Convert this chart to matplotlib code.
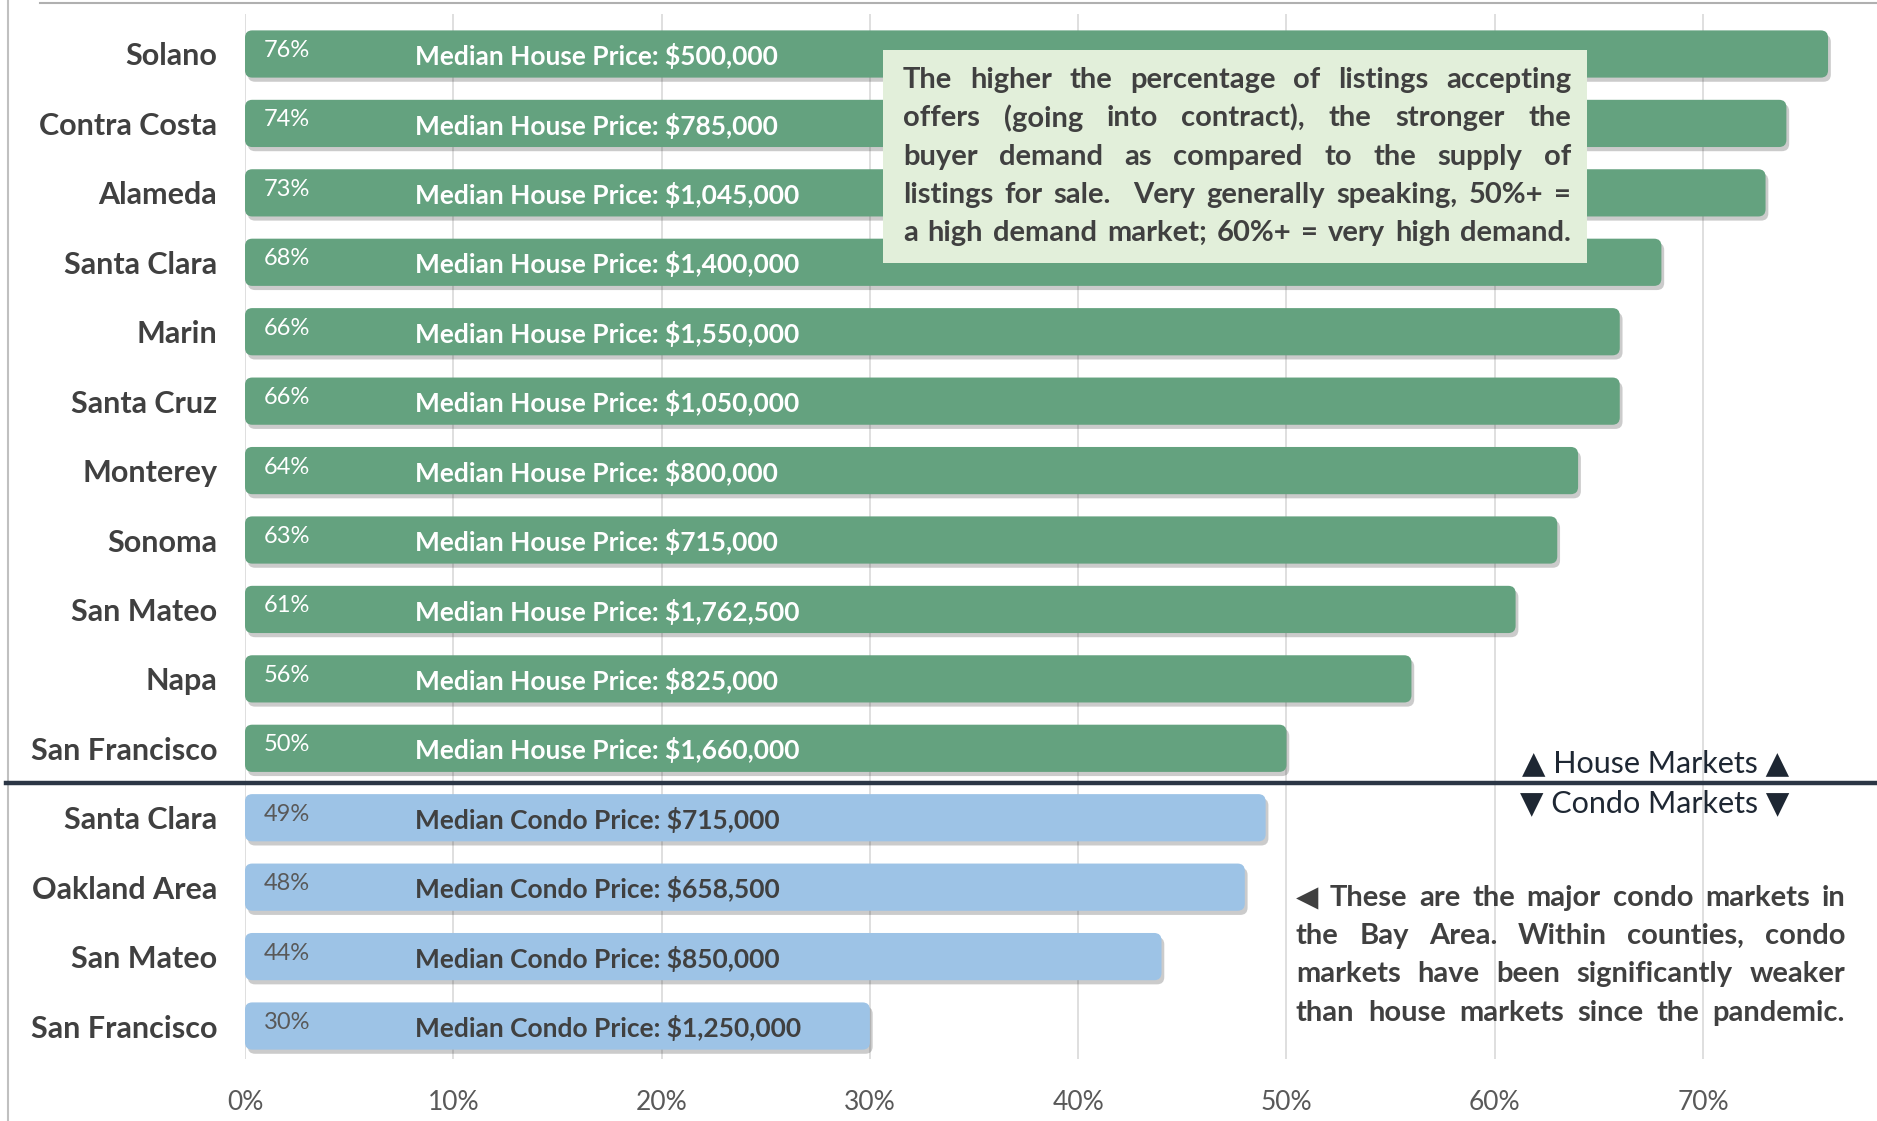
import numpy as np
import matplotlib.pyplot as plt
from matplotlib.patches import FancyBboxPatch, Rectangle
from matplotlib.lines import Line2D
import matplotlib.patheffects as pe
import matplotlib.transforms as mtransforms

plt.rcParams['font.family'] = ['Lato', 'DejaVu Sans']

# listings accepting offers, top to bottom
markets = ["Solano", "Contra Costa", "Alameda", "Santa Clara", "Marin", "Santa Cruz",
           "Monterey", "Sonoma", "San Mateo", "Napa", "San Francisco",
           "Santa Clara", "Oakland Area", "San Mateo", "San Francisco"]
pct = [76, 74, 73, 68, 66, 66, 64, 63, 61, 56, 50, 49, 48, 44, 30]
prices = ["$500,000", "$785,000", "$1,045,000", "$1,400,000", "$1,550,000", "$1,050,000",
          "$800,000", "$715,000", "$1,762,500", "$825,000", "$1,660,000",
          "$715,000", "$658,500", "$850,000", "$1,250,000"]
kind = ["House"] * 11 + ["Condo"] * 4
xticks = [0, 10, 20, 30, 40, 50, 60, 70]

GREEN = "#64a27f"
BLUE = "#9dc3e6"
DARK = "#404040"

W, H = 1877, 1121
fig = plt.figure(figsize=(W / 100, H / 100), dpi=100)
fig.patch.set_facecolor("white")

def fx(px):
    return px / W

def fy(py):
    return 1 - py / H

ax = fig.add_axes([fx(245), fy(1059), fx(1622), (1059 - 14) / H])
y = np.arange(len(markets))
colors = [GREEN if k == "House" else BLUE for k in kind]
bars = ax.barh(y, np.array(pct) / 100, height=0.68, color=colors)

ax.set_xlim(0, 0.7787)
ax.set_ylim(14.475, -0.576)

# swap the plain bars for rounded ones with a soft drop shadow
for b, c in zip(bars, colors):
    b.set_visible(False)
    fb = FancyBboxPatch((b.get_x(), b.get_y()), b.get_width(), b.get_height(),
                        boxstyle="round,pad=0,rounding_size=0.0035",
                        mutation_aspect=30, facecolor=c, edgecolor="none", zorder=2)
    fb.set_path_effects([pe.SimplePatchShadow(offset=(2, -3), alpha=0.25, shadow_rgbFace="#333333"),
                         pe.Normal()])
    ax.add_patch(fb)

for i, (p, pr, k) in enumerate(zip(pct, prices, kind)):
    tc = "white" if k == "House" else "#595959"
    ax.text(0.009, i - 0.05, f"{p}%", color=tc, fontsize=17, va="center", ha="left", zorder=3)
    ax.text(0.0815, i + 0.03, f"Median {k} Price: {pr}", color=tc if k == "House" else DARK,
            fontsize=19, fontweight="bold", va="center", ha="left", zorder=3)

ax.set_yticks(y)
ax.set_yticklabels(markets, fontsize=22, fontweight="bold", color=DARK)
ax.set_xticks(np.array(xticks) / 100)
ax.set_xticklabels([f"{t}%" for t in xticks], fontsize=19, color="#595959")
ax.tick_params(axis="y", length=0, pad=20)
ax.tick_params(axis="x", length=0, pad=22)
ax.grid(axis="x", color="#d9d9d9", lw=1.2)
ax.set_axisbelow(True)
for s in ax.spines.values():
    s.set_visible(False)

# divider between house and condo markets
trans = mtransforms.blended_transform_factory(fig.transFigure, ax.transData)
fig.add_artist(Line2D([0.003, 1.0], [10.5, 10.5], transform=trans, color="#2b3645", lw=3.2, zorder=5))
ax.text(0.677, 10.22, "▲ House Markets ▲", fontsize=22, color="#1e2733", ha="center", va="center")
ax.text(0.677, 10.79, "▼ Condo Markets ▼", fontsize=22, color="#1e2733", ha="center", va="center")

# frame lines at the top and left edge
fig.add_artist(Line2D([fx(40), 1.0], [fy(3), fy(3)], color="#b0b0b0", lw=1.5))
fig.add_artist(Line2D([fx(8), fx(8)], [0, 1], color="#c0c0c0", lw=1.5))

renderer = fig.canvas.get_renderer()

def justified(lines, x0, x1, ys, size, color, weight="bold", justify_last=True):
    for n, (line, yy) in enumerate(zip(lines, ys)):
        words = line.split(" ")
        widths = []
        for w in words:
            t = fig.text(0, 0, w, fontsize=size, fontweight=weight)
            widths.append(t.get_window_extent(renderer).width)
            t.remove()
        last = n == len(lines) - 1
        if len(words) > 1 and (justify_last or not last):
            gap = (x1 - x0 - sum(widths)) / (len(words) - 1)
        else:
            gap = size * 0.3
        xp = x0
        for w, wd in zip(words, widths):
            fig.text(fx(xp), fy(yy), w, fontsize=size, fontweight=weight, color=color,
                     ha="left", va="center", zorder=6)
            xp += wd + gap

fig.add_artist(Rectangle((fx(883), fy(263)), fx(1587 - 883), (263 - 50) / H,
                         transform=fig.transFigure, facecolor="#e2efda", edgecolor="none", zorder=4))
box_lines = ["The higher the percentage of listings accepting",
             "offers (going into contract), the stronger the",
             "buyer demand as compared to the supply of",
             "listings for sale.  Very generally speaking, 50%+ =",
             "a high demand market; 60%+ = very high demand."]
justified(box_lines, 903, 1571, [80, 118, 157, 195, 233], 21, DARK)

note_lines = ["◀ These are the major condo markets in",
              "the Bay Area. Within counties, condo",
              "markets have been significantly weaker",
              "than house markets since the pandemic."]
justified(note_lines, 1296, 1845, [898, 936, 974, 1013], 21, DARK)

fig.savefig("out.png", dpi=100)
